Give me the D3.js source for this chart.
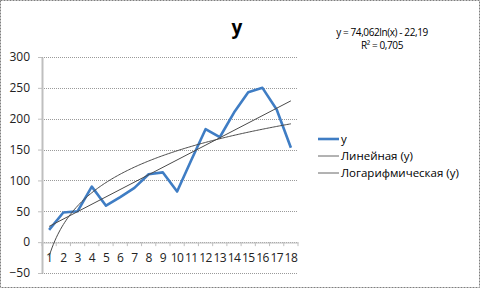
<!DOCTYPE html>
<html>
<head>
<meta charset="utf-8">
<script src="https://cdn.jsdelivr.net/npm/d3@7"></script>
<style>
  body { margin: 0; background: #fff; }
  svg text { font-family: "Open Sans", "DejaVu Sans", sans-serif; }
</style>
</head>
<body>
<div id="chart"></div>
<script>
// categories and values
const categories = d3.range(1, 19);
const values = [20, 48, 50, 90, 59, 73, 88, 110, 113, 82, 133, 183, 170, 210, 243, 250, 215, 153];
const yTicks = [-50, 0, 50, 100, 150, 200, 250, 300];
const legendLabels = ["y", "Линейная (y)", "Логарифмическая (y)"];
const equation = ["y = 74,062ln(x) - 22,19", "R² = 0,705"];

const width = 481, height = 289;
const plot = { left: 42, right: 298, top: 57, bottom: 273 };

const svg = d3.select("#chart").append("svg")
  .attr("width", width)
  .attr("height", height);

// outer frame
svg.append("rect")
  .attr("x", 0.5).attr("y", 0.5)
  .attr("width", width - 2).attr("height", height - 2)
  .attr("fill", "#fff")
  .attr("stroke", "#7f7f7f")
  .attr("stroke-dasharray", "2,1");

const x = d3.scaleBand().domain(categories).range([plot.left, plot.right]);
const xLin = d3.scaleLinear().domain([0.5, 18.5]).range([plot.left, plot.right]);
const y = d3.scaleLinear().domain([-50, 300]).range([plot.bottom, plot.top]);

// gridlines
svg.append("g")
  .selectAll("line")
  .data(yTicks)
  .join("line")
  .attr("x1", plot.left).attr("x2", plot.right)
  .attr("y1", d => Math.round(y(d)) + 0.5).attr("y2", d => Math.round(y(d)) + 0.5)
  .attr("stroke", "#9a9a9a")
  .attr("stroke-dasharray", "1,1");

// y axis
const yAxis = svg.append("g")
  .attr("transform", `translate(${plot.left},0)`)
  .call(d3.axisLeft(y).tickValues(yTicks).tickSize(4).tickSizeOuter(0).tickPadding(8));
yAxis.select(".domain").attr("stroke", "#bfbfbf").attr("stroke-width", 2);
yAxis.selectAll(".tick line").attr("stroke", "#bfbfbf");
yAxis.selectAll("text").attr("font-size", 12).attr("fill", "#222")
  .style("font-family", "Open Sans");

// x axis at y = 0
const xAxis = svg.append("g")
  .attr("transform", `translate(0,${Math.round(y(0)) + 0.5})`)
  .call(d3.axisBottom(x).tickSize(0).tickPadding(11));
xAxis.select(".domain").attr("stroke", "#bfbfbf");
xAxis.selectAll("text").attr("font-size", 12).attr("fill", "#222")
  .attr("letter-spacing", -0.6);
svg.append("g")
  .selectAll("line")
  .data(d3.range(0, categories.length + 1))
  .join("line")
  .attr("x1", i => plot.left + i * x.step()).attr("x2", i => plot.left + i * x.step())
  .attr("y1", y(0)).attr("y2", y(0) + 4)
  .attr("stroke", "#bfbfbf");

// least squares trendlines
function fit(xs, ys) {
  const mx = d3.mean(xs), my = d3.mean(ys);
  const b = d3.sum(xs, (v, i) => (v - mx) * (ys[i] - my)) / d3.sum(xs, v => (v - mx) ** 2);
  return { b, a: my - b * mx };
}
const lin = fit(categories, values);
const logFit = fit(categories.map(Math.log), values);

const line = d3.line().x(d => xLin(d[0])).y(d => y(d[1]));

svg.append("path")
  .datum(values.map((v, i) => [categories[i], v]))
  .attr("d", line)
  .attr("fill", "none")
  .attr("stroke", "#3f7dc4")
  .attr("stroke-width", 2.6)
  .attr("stroke-linejoin", "round");

svg.append("path")
  .datum([1, 18].map(t => [t, lin.a + lin.b * t]))
  .attr("d", line)
  .attr("fill", "none")
  .attr("stroke", "#4a4a4a")
  .attr("stroke-width", 1);

svg.append("path")
  .datum(d3.range(1, 18.01, 0.1).map(t => [t, logFit.a + logFit.b * Math.log(t)]))
  .attr("d", line)
  .attr("fill", "none")
  .attr("stroke", "#4a4a4a")
  .attr("stroke-width", 1);

// title
svg.append("text")
  .attr("x", 237).attr("y", 34)
  .attr("text-anchor", "middle")
  .attr("font-size", 19).attr("font-weight", "bold")
  .attr("fill", "#000")
  .text("y");

// equation label
svg.append("g")
  .selectAll("text")
  .data(equation)
  .join("text")
  .attr("x", 382).attr("y", (d, i) => 36 + i * 13)
  .attr("text-anchor", "middle")
  .attr("font-size", 10)
  .attr("letter-spacing", -0.4)
  .attr("fill", "#000")
  .text(d => d);

// legend
const legend = svg.append("g")
  .selectAll("g")
  .data(legendLabels)
  .join("g")
  .attr("transform", (d, i) => `translate(318,${139 + [0, 17, 34][i]})`);
legend.append("line")
  .attr("x1", 0).attr("x2", 21)
  .attr("stroke", (d, i) => i === 0 ? "#3f7dc4" : "#666")
  .attr("stroke-width", (d, i) => i === 0 ? 2.6 : 1);
legend.append("text")
  .attr("x", 23).attr("y", 4)
  .attr("font-size", 11.5)
  .attr("fill", "#000")
  .text(d => d);
</script>
</body>
</html>
